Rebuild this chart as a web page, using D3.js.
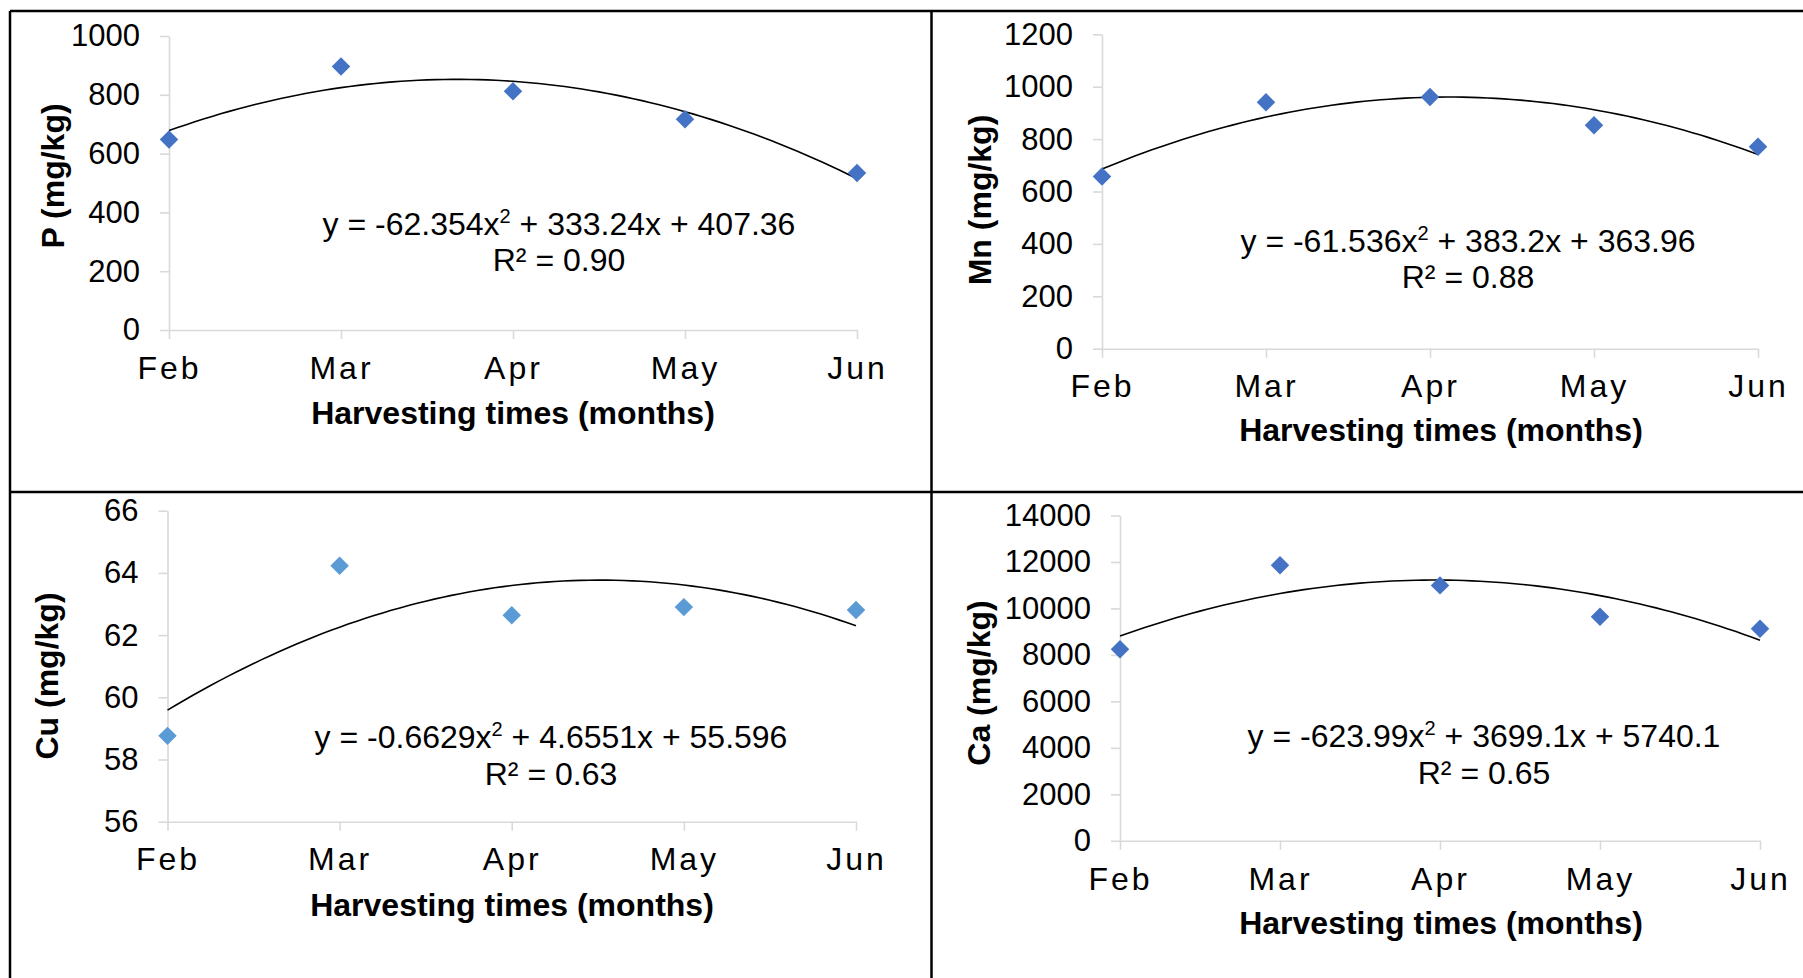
<!DOCTYPE html>
<html>
<head>
<meta charset="utf-8">
<script src="https://cdn.jsdelivr.net/npm/d3@7"></script>
<style>
  html, body { margin: 0; padding: 0; background: #fff; }
  svg { display: block; font-family: "Liberation Sans", Arial, sans-serif; }
</style>
</head>
<body>
<svg id="chart" width="1803" height="978"></svg>
<script>
// Harvest months on the shared category axis
const months = ["Feb", "Mar", "Apr", "May", "Jun"];

// Measured nutrient contents (mg/kg)
const pValues  = [648, 896, 812, 717, 534];
const mnValues = [657, 941, 961, 853, 771];
const cuValues = [58.76, 64.23, 62.64, 62.90, 62.81];
const caValues = [8246, 11857, 10992, 9644, 9129];

// Quadratic trend coefficients [a, b, c] for y = a x^2 + b x + c (x = 1..5)
const pTrend  = [-62.354, 333.24, 407.36];
const mnTrend = [-61.536, 383.2, 363.96];
const cuTrend = [-0.6629, 4.6551, 55.596];
const caTrend = [-623.99, 3699.1, 5740.1];

// Coefficients of determination
const pR2 = "0.90", mnR2 = "0.88", cuR2 = "0.63", caR2 = "0.65";

// Y-axis tick values
const pTicks  = [0, 200, 400, 600, 800, 1000];
const mnTicks = [0, 200, 400, 600, 800, 1000, 1200];
const cuTicks = [56, 58, 60, 62, 64, 66];
const caTicks = [0, 2000, 4000, 6000, 8000, 10000, 12000, 14000];

// Panel geometry and styling
const panels = [
  { name: "P",  values: pValues,  trend: pTrend,  r2: pR2,  ticks: pTicks,
    x0: 169, x1: 857, yTop: 36, yBot: 330, titleX: 56, titleY: 176,
    xTitleX: 513, xTitleY: 424,
    eqX: 559, eqY: 235, r2Y: 271, color: "#4472C4" },
  { name: "Mn", values: mnValues, trend: mnTrend, r2: mnR2, ticks: mnTicks,
    x0: 1102, x1: 1758, yTop: 34.3, yBot: 348.7, titleX: 983, titleY: 200,
    xTitleX: 1441, xTitleY: 441,
    eqX: 1468, eqY: 252, r2Y: 288, color: "#4472C4" },
  { name: "Cu", values: cuValues, trend: cuTrend, r2: cuR2, ticks: cuTicks,
    x0: 167.5, x1: 856, yTop: 510.7, yBot: 821.7, titleX: 50, titleY: 676,
    xTitleX: 512, xTitleY: 916,
    eqX: 551, eqY: 748, r2Y: 785, color: "#5B9BD5" },
  { name: "Ca", values: caValues, trend: caTrend, r2: caR2, ticks: caTicks,
    x0: 1120, x1: 1760, yTop: 515.5, yBot: 840.8, titleX: 982, titleY: 683,
    xTitleX: 1441, xTitleY: 934,
    eqX: 1484, eqY: 747, r2Y: 784, color: "#4472C4" }
];

const svg = d3.select("#chart");
const axisColor = "#d9d9d9";

// Frame lines separating the four panels
const frame = [
  [10, 11, 1803, 11],
  [10, 11, 10, 978],
  [931.5, 11, 931.5, 978],
  [10, 492, 1803, 492]
];
svg.append("g").selectAll("line").data(frame).join("line")
  .attr("x1", d => d[0]).attr("y1", d => d[1])
  .attr("x2", d => d[2]).attr("y2", d => d[3])
  .attr("stroke", "#000").attr("stroke-width", 2.5);

function fmt(v) { return String(v); }

panels.forEach(p => {
  const g = svg.append("g");
  const x = d3.scalePoint().domain(months).range([p.x0, p.x1]);
  const xNum = d3.scaleLinear().domain([1, months.length]).range([p.x0, p.x1]);
  const y = d3.scaleLinear()
    .domain([p.ticks[0], p.ticks[p.ticks.length - 1]])
    .range([p.yBot, p.yTop]);

  // Y axis
  const ya = g.append("g").attr("transform", `translate(${p.x0},0)`)
    .call(d3.axisLeft(y).tickValues(p.ticks).tickSize(9).tickSizeOuter(0).tickPadding(20)
      .tickFormat(d3.format("d")));
  ya.select(".domain").attr("stroke", axisColor).attr("stroke-width", 1.6);
  ya.selectAll(".tick line").attr("stroke", axisColor).attr("stroke-width", 1.6);
  ya.selectAll(".tick text").attr("fill", "#000")
    .style("font-size", "31px").style("font-family", "'Liberation Sans', Arial, sans-serif");

  // X axis
  const xa = g.append("g").attr("transform", `translate(0,${p.yBot})`)
    .call(d3.axisBottom(x).tickSize(9).tickSizeOuter(0).tickPadding(17));
  xa.select(".domain").attr("stroke", axisColor).attr("stroke-width", 1.6);
  xa.selectAll(".tick line").attr("stroke", axisColor).attr("stroke-width", 1.6);
  xa.selectAll(".tick text").attr("fill", "#000")
    .style("font-size", "32px").style("letter-spacing", "3px")
    .style("font-family", "'Liberation Sans', Arial, sans-serif");

  // X axis title
  g.append("text")
    .attr("x", p.xTitleX).attr("y", p.xTitleY)
    .attr("text-anchor", "middle")
    .style("font-size", "32px").style("font-weight", "bold")
    .text("Harvesting times (months)");

  // Y axis title
  g.append("text")
    .attr("transform", `translate(${p.titleX},${p.titleY}) rotate(-90)`)
    .attr("text-anchor", "middle").attr("dy", "0.26em")
    .style("font-size", "32px").style("font-weight", "bold")
    .text(`${p.name} (mg/kg)`);

  // Quadratic trend line
  const [a, b, c] = p.trend;
  const xs = d3.range(1, months.length + 0.001, 0.05);
  g.append("path")
    .datum(xs)
    .attr("fill", "none").attr("stroke", "#000").attr("stroke-width", 1.6)
    .attr("d", d3.line().x(t => xNum(t)).y(t => y(a * t * t + b * t + c)));

  // Data markers
  g.selectAll("path.marker").data(p.values).join("path")
    .attr("class", "marker")
    .attr("d", d3.symbol(d3.symbolSquare, 170)())
    .attr("transform", (d, i) => `translate(${x(months[i])},${y(d)}) rotate(45)`)
    .attr("fill", p.color);

  // Trend equation and R²
  const eq = g.append("text")
    .attr("x", p.eqX).attr("y", p.eqY).attr("text-anchor", "middle")
    .style("font-size", "32px");
  eq.append("tspan").text(`y = ${fmt(a)}x`);
  eq.append("tspan").attr("dy", -12).style("font-size", "20px").text("2");
  eq.append("tspan").attr("dy", 12).text(` + ${fmt(b)}x + ${fmt(c)}`);

  g.append("text")
    .attr("x", p.eqX).attr("y", p.r2Y).attr("text-anchor", "middle")
    .style("font-size", "32px")
    .text(`R² = ${p.r2}`);
});
</script>
</body>
</html>
